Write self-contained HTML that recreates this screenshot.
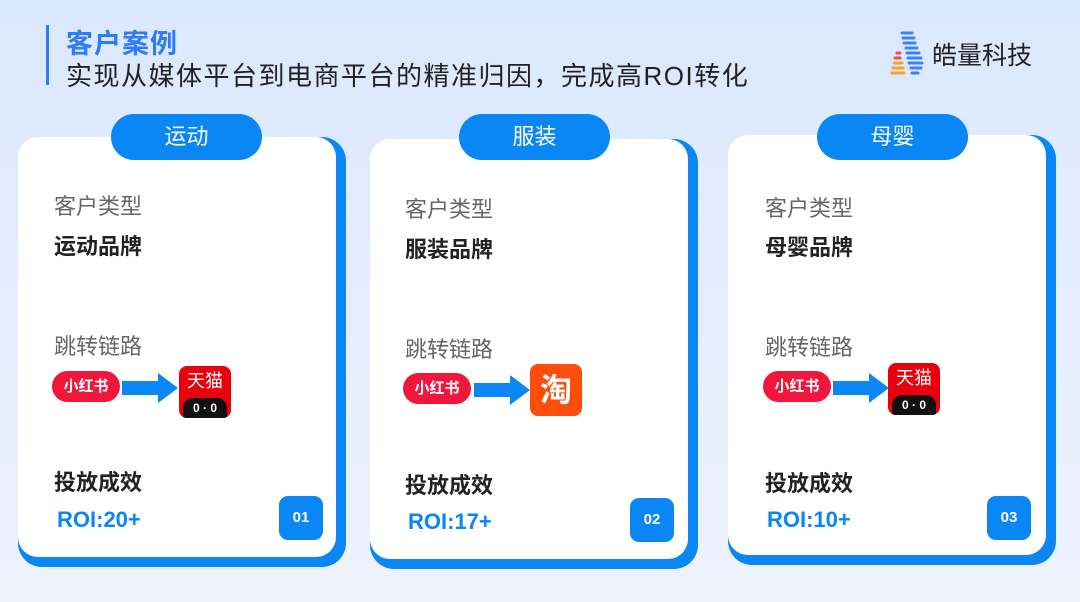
<!DOCTYPE html>
<html><head><meta charset="utf-8"><style>
*{margin:0;padding:0;box-sizing:border-box}
body{width:1080px;height:602px;overflow:hidden;position:relative;font-family:"Liberation Sans","Noto Sans CJK SC",sans-serif;background:linear-gradient(180deg,#dae8fd 0%,#e6effd 60%,#eef3fc 100%)}
.abs{position:absolute}
.bar{left:46px;top:25px;width:3px;height:60px;background:#2f7cf6}
.t1{left:66px;top:22px;font-size:27px;font-weight:bold;color:#2f7cf6;letter-spacing:1px}
.t2{left:66px;top:56px;font-size:26px;color:#222;letter-spacing:1.5px}
.card{position:absolute;width:328px;height:430px;background:#0a86f5;border-radius:24px}
.card .in{position:absolute;left:0;top:0;width:318px;height:420px;background:#fff;border-radius:20px}
.pill{position:absolute;width:151px;height:46px;border-radius:23px;background:#0a86f5;color:#fff;font-size:22px;text-align:center;line-height:46px}
.lbl{position:absolute;font-size:22px;color:#666}
.bold{position:absolute;font-size:22px;font-weight:bold;color:#222}
.roi{position:absolute;font-size:22px;font-weight:bold;color:#0a86f5}
.num{position:absolute;width:44px;height:44px;border-radius:9px;background:#0a86f5;color:#fff;font-size:15px;font-weight:bold;text-align:center;line-height:44px}
.xhs{position:absolute;width:68px;height:31px;border-radius:16px;background:#f0163c;color:#fff;font-size:15px;font-weight:bold;text-align:center;line-height:31px}
.arr{position:absolute;width:56px;height:30px}
.tm{position:absolute;width:52px;height:52px;border-radius:8px;background:#e8000d;color:#fff;font-size:18px;text-align:center;line-height:30px;overflow:hidden}
.tm i{position:absolute;left:4px;bottom:0;width:44px;height:20px;background:#111;border-radius:10px 10px 0 0;font-style:normal;font-size:12px;font-weight:bold;line-height:20px;color:#fff}
.tb{position:absolute;width:52px;height:52px;border-radius:8px;background:#ff4e0c;color:#fff;font-size:32px;font-weight:bold;text-align:center;line-height:52px}
</style></head><body>
<div class="abs bar"></div>
<div class="abs t1">客户案例</div>
<div class="abs t2">实现从媒体平台到电商平台的精准归因，完成高ROI转化</div>
<svg class="abs" style="left:890px;top:30px" width="36" height="46">
<g stroke-width="3" stroke-linecap="round">
<line x1="12" y1="3" x2="22" y2="3" stroke="#3c82f6"/><line x1="13" y1="8" x2="24" y2="8" stroke="#3c82f6"/><line x1="14" y1="13" x2="25" y2="13" stroke="#3c82f6"/><line x1="16" y1="18" x2="27" y2="18" stroke="#3c82f6"/><line x1="17" y1="23" x2="29" y2="23" stroke="#3c82f6"/><line x1="18" y1="28" x2="31" y2="28" stroke="#3c82f6"/><line x1="19" y1="33" x2="32" y2="33" stroke="#3c82f6"/><line x1="21" y1="38" x2="31" y2="38" stroke="#3c82f6"/><line x1="22" y1="43" x2="28" y2="43" stroke="#3c82f6"/>
<line x1="7" y1="23" x2="10" y2="23" stroke="#f04a5a"/><line x1="5" y1="28" x2="10" y2="28" stroke="#f04a5a"/><line x1="4" y1="33" x2="12" y2="33" stroke="#f5a623"/><line x1="3" y1="38" x2="13" y2="38" stroke="#f5a623"/><line x1="2" y1="43" x2="14" y2="43" stroke="#f5a623"/></g></svg>
<div class="abs" style="left:932px;top:36px;font-size:25px;color:#222">皓量科技</div>

<!-- card 1 -->
<div class="card" style="left:18px;top:137px"><div class="in"></div></div>
<div class="pill" style="left:111px;top:114px">运动</div>
<div class="lbl" style="left:54px;top:189px">客户类型</div>
<div class="bold" style="left:54px;top:229px">运动品牌</div>
<div class="lbl" style="left:54px;top:329px">跳转链路</div>
<div class="xhs" style="left:52px;top:371px">小红书</div>
<svg class="arr" style="left:122px;top:373px" viewBox="0 0 56 30"><path d="M0 8H36V0L56 15L36 30V22H0Z" fill="#0a86f5"/></svg>
<div class="tm" style="left:179px;top:366px">天猫<i>0 · 0</i></div>
<div class="bold" style="left:54px;top:465px">投放成效</div>
<div class="roi" style="left:57px;top:507px">ROI:20+</div>
<div class="num" style="left:279px;top:496px">01</div>

<!-- card 2 -->
<div class="card" style="left:370px;top:139px"><div class="in"></div></div>
<div class="pill" style="left:459px;top:114px">服装</div>
<div class="lbl" style="left:405px;top:192px">客户类型</div>
<div class="bold" style="left:405px;top:232px">服装品牌</div>
<div class="lbl" style="left:405px;top:332px">跳转链路</div>
<div class="xhs" style="left:403px;top:373px">小红书</div>
<svg class="arr" style="left:474px;top:375px" viewBox="0 0 56 30"><path d="M0 8H36V0L56 15L36 30V22H0Z" fill="#0a86f5"/></svg>
<div class="tb" style="left:530px;top:364px">淘</div>
<div class="bold" style="left:405px;top:468px">投放成效</div>
<div class="roi" style="left:408px;top:509px">ROI:17+</div>
<div class="num" style="left:630px;top:498px">02</div>

<!-- card 3 -->
<div class="card" style="left:728px;top:135px"><div class="in"></div></div>
<div class="pill" style="left:817px;top:114px">母婴</div>
<div class="lbl" style="left:765px;top:191px">客户类型</div>
<div class="bold" style="left:765px;top:230px">母婴品牌</div>
<div class="lbl" style="left:765px;top:330px">跳转链路</div>
<div class="xhs" style="left:763px;top:371px">小红书</div>
<svg class="arr" style="left:833px;top:373px" viewBox="0 0 56 30"><path d="M0 8H36V0L56 15L36 30V22H0Z" fill="#0a86f5"/></svg>
<div class="tm" style="left:888px;top:363px">天猫<i>0 · 0</i></div>
<div class="bold" style="left:765px;top:466px">投放成效</div>
<div class="roi" style="left:767px;top:507px">ROI:10+</div>
<div class="num" style="left:987px;top:496px">03</div>
</body></html>
